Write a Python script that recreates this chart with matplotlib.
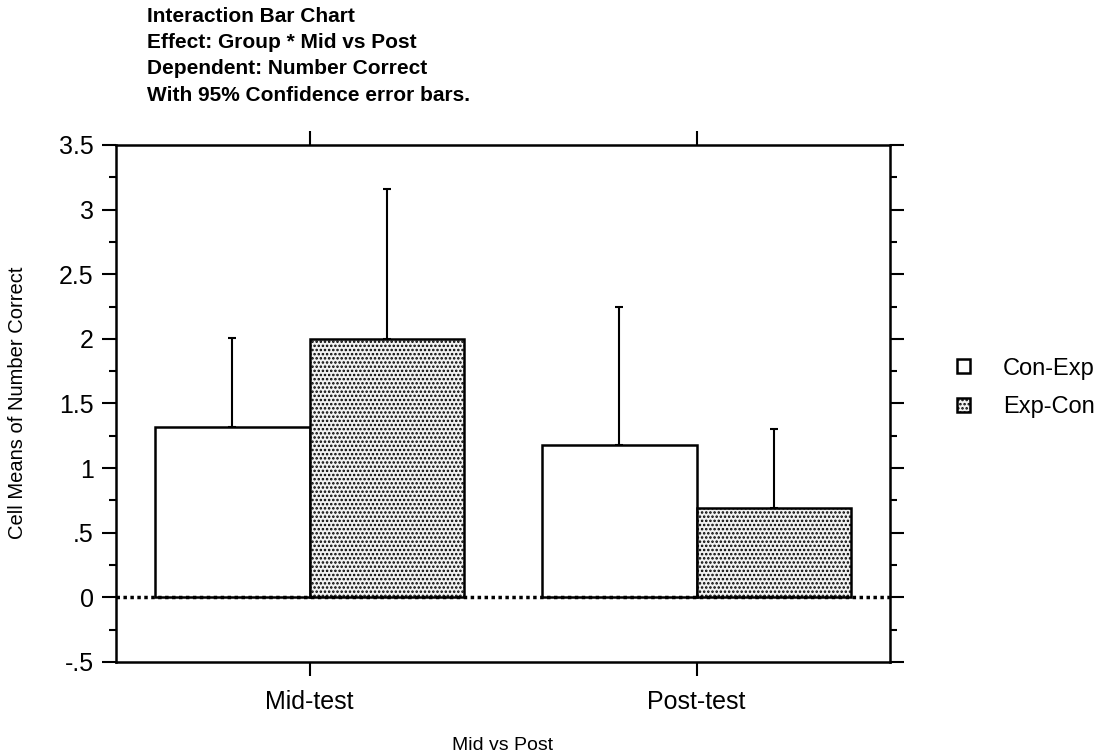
import numpy as np
import matplotlib
matplotlib.use('Agg')
import matplotlib.pyplot as plt
from matplotlib.patches import Rectangle

plt.rcParams['font.family'] = ['Liberation Sans', 'DejaVu Sans']
plt.rcParams['hatch.linewidth'] = 1.2
plt.rcParams['hatch.color'] = '#444444'

categories = ['Mid-test', 'Post-test']
groups = ['Con-Exp', 'Exp-Con']
means = {'Con-Exp': [1.32, 1.18], 'Exp-Con': [2.0, 0.69]}
upper = {'Con-Exp': [2.01, 2.25], 'Exp-Con': [3.16, 1.30]}
yticks = [-0.5, 0, 0.5, 1, 1.5, 2, 2.5, 3, 3.5]
ytick_labels = ['-.5', '0', '.5', '1', '1.5', '2', '2.5', '3', '3.5']

fig = plt.figure(figsize=(10.99, 7.55), dpi=100)
ax = fig.add_axes([0.1056, 0.1232, 0.7044, 0.6848])

x = np.arange(len(categories))
w = 0.4
styles = {'Con-Exp': dict(facecolor='white', hatch=None),
          'Exp-Con': dict(facecolor='#f2f2f2', hatch='....')}
offsets = {'Con-Exp': -w, 'Exp-Con': 0}

for g in groups:
    m = np.array(means[g])
    ax.bar(x + offsets[g], m, width=w, align='edge', edgecolor='black',
           linewidth=1.8, zorder=2, **styles[g])
    ax.errorbar(x + offsets[g] + w / 2, m, yerr=[np.zeros_like(m), np.array(upper[g]) - m],
                fmt='none', ecolor='black', elinewidth=1.5, capsize=3, capthick=1.5, zorder=1)

ax.axhline(0, color='black', linestyle=(0, (1, 1)), linewidth=2.5, zorder=3)

ax.set_xlim(-0.5, 1.5)
ax.set_ylim(-0.5, 3.5)
ax.set_xticks(x)
ax.set_xticklabels(categories, fontsize=18)
ax.set_yticks(yticks)
ax.set_yticklabels(ytick_labels, fontsize=18)
ax.set_yticks(np.arange(-0.5, 3.51, 0.25), minor=True)
ax.tick_params(axis='both', which='major', direction='out', length=10, width=1.5,
               top=True, right=True, pad=6)
ax.tick_params(axis='y', which='minor', direction='out', length=5, width=1.5, right=True)
ax.tick_params(axis='x', which='major', pad=10)
for s in ax.spines.values():
    s.set_linewidth(1.8)

fig.text(503 / 1099, 1 - 745 / 755, 'Mid vs Post', fontsize=14, ha='center', va='center')
fig.text(18 / 1099, 1 - 403 / 755, 'Cell Means of Number Correct', fontsize=14.5,
         ha='center', va='center', rotation=90)

title = ('Interaction Bar Chart\nEffect: Group * Mid vs Post\n'
         'Dependent: Number Correct\nWith 95% Confidence error bars.')
fig.text(147 / 1099, 1 - 7 / 755, title, fontsize=15, fontweight='bold',
         va='top', ha='left', linespacing=1.48)

handles = [Rectangle((0, 0), 1, 1, facecolor='white', edgecolor='black', linewidth=1.8),
           Rectangle((0, 0), 1, 1, facecolor='#f2f2f2', hatch='....', edgecolor='black', linewidth=1.8)]
fig.legend(handles, groups, loc='center left', bbox_to_anchor=(957 / 1099, 1 - 388 / 755),
           frameon=False, fontsize=17, handlelength=0.55, handleheight=0.55,
           handletextpad=1.4, labelspacing=0.7, borderpad=0, borderaxespad=0)

fig.savefig('out.png', dpi=100)
